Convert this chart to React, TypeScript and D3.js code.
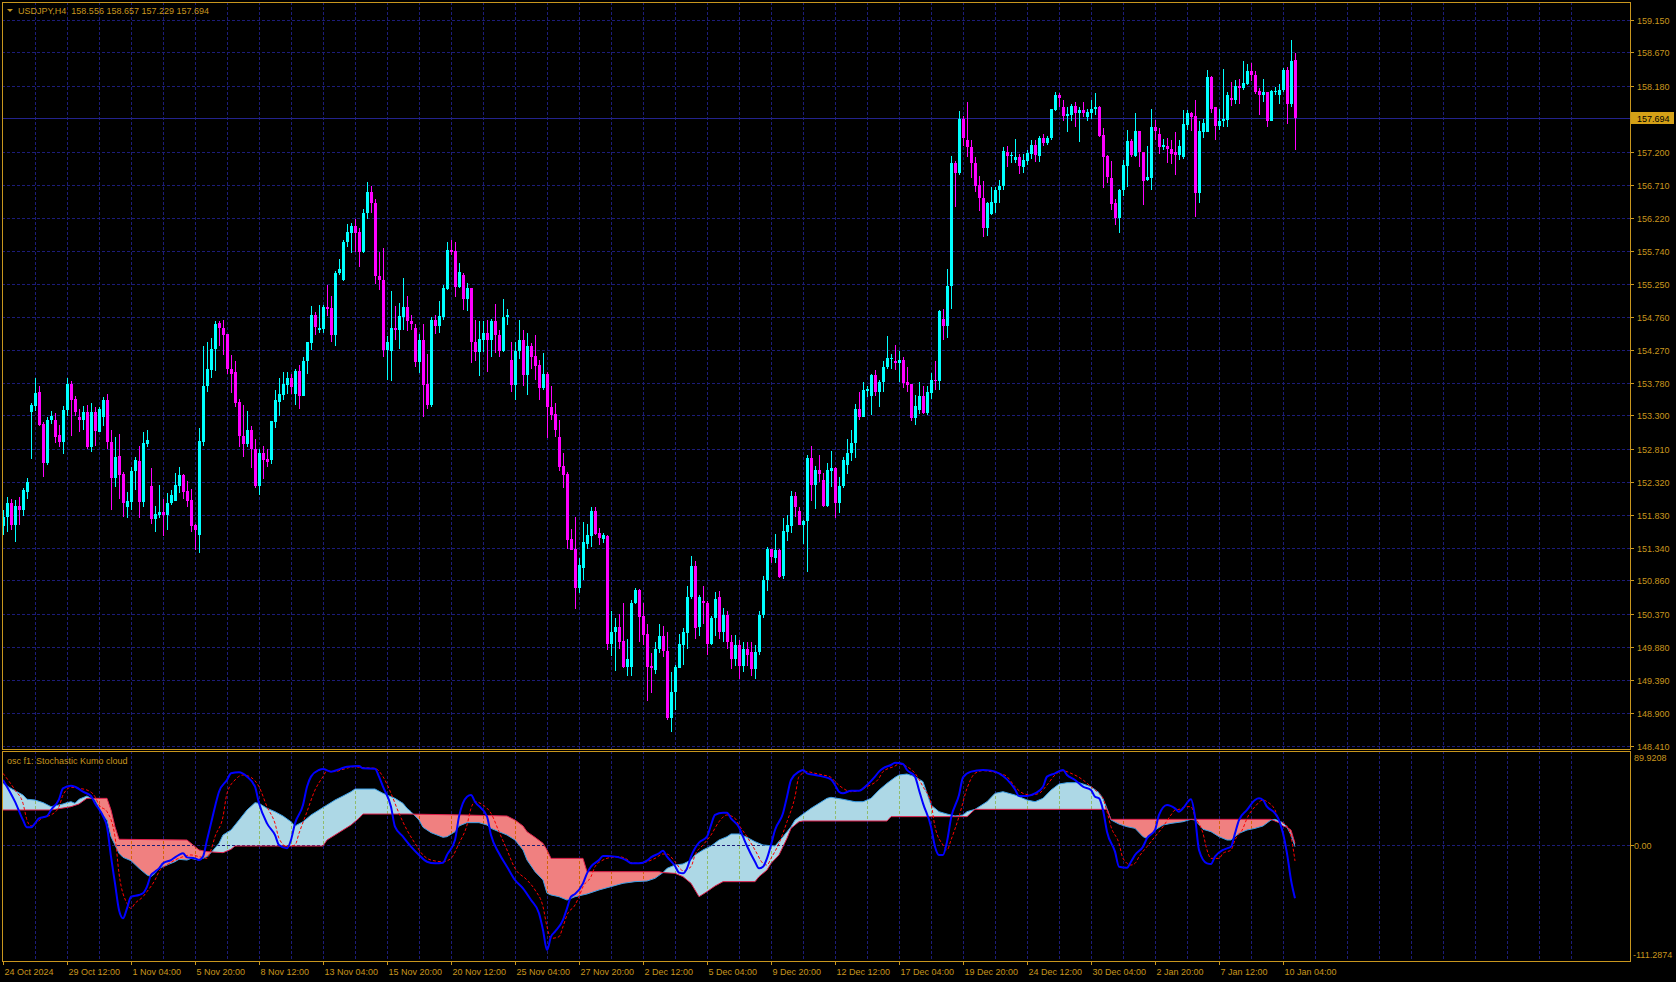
import React, { useEffect, useRef } from "react";
import * as d3 from "d3";

// USDJPY H4 candles, bar 0 = 24 Oct 2024 20:00
const opens = [
  151.66,151.80,152.00,151.68,151.96,151.90,152.17,153.35,153.44,153.65,
  153.17,152.60,153.24,153.23,153.01,152.91,153.38,153.77,153.54,153.28,
  153.23,153.35,152.83,153.35,153.06,153.28,153.53,152.91,152.38,152.70,
  152.43,151.95,152.02,152.48,152.62,152.02,152.88,152.26,151.77,151.83,
  151.87,151.82,152.00,152.03,152.26,152.42,152.18,152.05,151.68,151.53,
  152.91,153.73,153.97,154.28,154.67,154.59,154.50,153.99,153.94,153.50,
  153.00,152.88,153.09,152.80,152.26,152.74,152.65,152.64,153.21,153.50,
  153.60,153.75,153.86,153.62,153.96,153.59,154.11,154.37,154.79,154.57,
  154.58,154.91,154.89,154.49,155.40,155.31,155.86,156.00,156.10,156.02,
  155.72,156.30,156.60,156.45,155.36,155.31,154.27,154.26,154.59,154.57,
  154.76,154.90,154.70,154.60,154.09,154.42,153.76,153.45,154.71,154.62,
  154.76,155.17,155.75,155.73,155.20,155.38,155.03,155.18,154.39,154.24,
  154.42,154.52,154.41,154.70,154.49,154.26,154.76,154.12,153.75,154.25,
  154.42,153.90,154.32,154.18,154.04,153.70,153.92,153.42,153.32,152.98,
  152.55,152.43,151.47,151.33,150.74,151.04,151.40,151.52,151.89,151.56,
  151.47,151.52,149.92,150.09,150.17,149.97,149.58,149.58,150.52,150.72,
  150.33,150.07,149.59,149.53,149.84,150.03,149.82,148.83,149.21,149.57,
  149.90,150.08,150.61,151.07,150.17,150.55,150.53,149.92,150.30,150.61,
  150.10,150.35,149.95,149.70,149.90,149.60,149.85,149.80,149.55,149.80,
  150.35,150.86,151.32,151.19,151.31,150.92,151.58,151.66,152.11,151.89,
  151.68,151.74,152.67,152.27,152.49,152.35,151.96,152.48,152.52,152.01,
  152.25,152.57,152.75,152.89,153.40,153.28,153.66,153.59,153.90,153.65,
  153.79,154.01,154.13,154.11,154.08,154.12,153.79,153.77,153.26,153.38,
  153.59,153.34,153.63,153.83,153.81,154.72,154.62,155.21,157.04,156.89,
  157.68,157.37,157.27,157.03,156.71,156.51,156.07,156.28,156.44,156.64,
  156.69,157.20,157.15,157.08,157.13,156.98,157.07,157.17,157.30,157.14,
  157.41,157.33,157.40,157.82,158.04,157.86,157.73,157.74,157.88,157.78,
  157.82,157.71,157.77,157.83,157.87,157.45,157.14,156.82,156.44,156.22,
  156.63,156.99,157.36,157.14,157.51,157.19,156.79,156.82,157.56,157.46,
  157.27,157.29,157.24,157.19,157.15,157.13,157.60,157.77,157.73,156.59,
  157.50,157.50,158.30,157.86,157.58,157.66,157.67,157.99,157.96,158.17,
  158.15,158.21,158.39,158.34,158.10,158.04,158.09,157.65,158.08,158.04,
  158.11,158.41,157.91,158.556,
];
const highs = [
  151.90,152.09,152.06,152.05,152.09,152.22,152.37,153.48,153.86,153.73,
  153.20,153.27,153.36,153.34,153.16,153.44,153.85,153.81,153.59,153.39,
  153.44,153.45,153.48,153.42,153.43,153.57,153.62,153.08,152.98,153.03,
  152.47,152.17,152.53,152.68,152.85,153.06,153.08,152.52,151.96,152.27,
  152.06,152.16,152.20,152.45,152.54,152.44,152.33,152.21,151.69,153.12,
  154.33,154.38,154.45,154.69,154.70,154.71,154.51,154.19,154.11,153.54,
  153.45,153.37,153.14,152.95,152.81,152.85,152.80,153.22,153.67,153.85,
  153.95,153.94,153.91,153.98,154.04,154.16,154.39,154.92,154.83,154.93,
  154.93,155.23,155.07,155.43,155.61,155.90,156.13,156.14,156.20,156.07,
  156.35,156.75,156.70,156.50,155.72,155.77,154.48,155.14,154.92,154.96,
  155.34,155.07,154.78,154.65,154.51,154.65,154.21,154.75,154.79,155.00,
  155.23,155.86,155.89,155.87,155.55,155.40,155.26,155.18,154.71,154.69,
  154.69,154.71,154.73,154.95,154.56,155.02,154.88,154.38,154.38,154.71,
  154.56,154.52,154.37,154.49,154.12,154.22,153.95,153.73,153.49,153.23,
  152.75,152.47,151.62,151.80,151.19,151.73,151.70,151.95,151.95,151.63,
  151.56,151.53,150.40,150.30,150.36,150.53,150.00,150.57,150.74,150.73,
  150.52,150.22,149.78,149.95,150.22,150.19,150.09,149.51,149.61,150.07,
  150.16,150.78,151.22,151.14,150.64,150.78,150.55,150.33,150.69,150.70,
  150.45,150.40,150.05,150.05,149.98,149.95,149.95,149.95,149.90,150.40,
  150.92,151.35,151.33,151.55,151.32,151.78,151.83,152.18,152.17,151.95,
  151.75,152.71,152.85,152.55,152.71,152.45,152.60,152.77,152.53,152.39,
  152.68,152.95,153.08,153.47,153.65,153.79,153.73,153.92,153.97,153.83,
  154.10,154.48,154.21,154.34,154.26,154.16,154.01,153.77,153.60,153.79,
  153.74,153.73,153.93,154.10,154.86,154.88,155.46,157.14,157.07,157.81,
  157.73,157.93,157.38,157.13,156.84,156.77,156.46,156.68,156.68,156.79,
  157.27,157.28,157.20,157.39,157.17,157.17,157.22,157.38,157.38,157.43,
  157.47,157.43,157.84,158.09,158.07,157.96,157.86,157.91,157.94,157.86,
  157.94,157.84,157.96,158.07,157.88,157.55,157.15,157.07,156.50,156.65,
  157.08,157.53,157.39,157.77,157.51,157.20,157.29,157.84,157.67,157.55,
  157.39,157.41,157.38,157.50,157.37,157.82,157.82,157.79,157.96,157.66,
  157.68,158.41,158.32,157.86,157.84,158.42,158.09,158.24,158.26,158.27,
  158.55,158.50,158.52,158.40,158.14,158.27,158.09,158.12,158.16,158.21,
  158.44,158.45,158.86,158.657,
];
const lows = [
  151.53,151.57,151.60,151.43,151.68,151.81,152.07,152.66,153.37,153.14,
  152.39,152.57,153.18,152.89,152.84,152.73,153.29,152.99,153.29,153.06,
  153.08,152.80,152.76,152.85,153.06,153.14,152.80,151.90,152.24,152.07,
  151.80,151.78,151.90,152.20,151.78,151.95,152.84,151.69,151.58,151.78,
  151.52,151.60,151.98,152.03,152.16,152.06,151.95,151.58,151.31,151.27,
  152.85,153.65,153.85,153.96,154.33,154.19,153.91,153.63,153.42,152.84,
  152.68,152.83,152.52,152.22,152.12,152.36,152.54,152.58,153.12,153.29,
  153.53,153.62,153.62,153.45,153.40,153.59,153.91,154.27,154.49,154.52,
  154.52,154.77,154.39,154.32,155.38,155.29,155.79,155.70,155.72,155.50,
  155.70,156.20,156.30,155.25,155.16,154.17,153.83,153.81,154.41,154.28,
  154.56,154.55,154.56,154.02,153.93,153.27,153.39,153.43,154.50,154.52,
  154.71,155.15,155.67,155.05,155.18,154.86,154.85,154.07,154.10,153.88,
  154.24,153.95,154.17,154.22,154.17,154.24,154.64,153.64,153.53,154.13,
  153.73,153.60,153.98,153.83,153.53,153.68,152.97,153.24,152.98,152.48,
  152.22,151.33,151.31,150.43,150.67,150.86,151.33,151.35,151.53,151.38,
  151.41,149.83,149.74,149.52,149.85,149.57,149.45,149.45,150.51,149.95,
  149.90,149.07,149.19,149.47,149.78,149.73,148.79,148.62,148.94,149.56,
  149.61,149.85,150.59,149.99,150.03,150.21,149.76,149.90,150.03,150.00,
  149.95,149.85,149.55,149.60,149.40,149.50,149.60,149.45,149.40,149.75,
  150.30,150.70,151.12,151.11,150.89,150.88,151.45,151.56,151.80,151.68,
  151.40,150.99,152.04,151.91,152.31,151.94,151.94,152.24,151.79,151.86,
  152.22,152.44,152.63,152.67,153.24,153.27,153.58,153.30,153.59,153.43,
  153.64,153.98,153.99,153.97,153.79,153.70,153.64,153.22,153.16,153.32,
  153.32,153.31,153.54,153.67,153.68,154.42,154.44,154.88,156.39,156.86,
  157.29,157.13,156.82,156.61,156.33,155.94,155.95,156.26,156.30,156.44,
  156.64,156.97,157.04,157.04,156.87,156.89,157.00,157.10,157.05,157.05,
  157.28,157.30,157.37,157.81,157.86,157.65,157.50,157.65,157.57,157.34,
  157.71,157.65,157.68,157.74,157.42,156.66,156.74,156.34,156.12,156.00,
  156.54,156.68,157.12,157.12,156.97,156.41,156.77,156.63,157.37,157.17,
  157.22,157.03,157.02,156.86,157.08,157.10,157.52,157.51,156.23,156.45,
  157.41,157.50,157.77,157.37,157.53,157.56,157.56,157.88,157.91,157.91,
  158.12,158.19,158.25,158.06,157.74,157.94,157.56,157.65,158.04,157.91,
  158.09,157.61,157.86,157.229,
];
const closes = [
  151.80,152.00,151.68,151.96,151.90,152.20,152.31,153.45,153.63,153.16,
  152.60,153.24,153.29,152.98,152.91,153.38,153.77,153.53,153.35,153.23,
  153.35,152.83,153.35,153.07,153.40,153.53,152.90,152.38,152.68,152.42,
  152.01,152.03,152.48,152.64,152.02,152.89,152.94,151.77,151.84,151.87,
  151.82,152.00,152.12,152.27,152.42,152.17,152.04,151.67,151.60,152.92,
  153.73,153.99,154.29,154.65,154.60,154.49,153.99,153.92,153.49,153.00,
  152.88,153.09,152.80,152.26,152.74,152.64,152.61,153.22,153.53,153.62,
  153.77,153.86,153.72,153.96,153.59,154.11,154.38,154.79,154.61,154.60,
  154.91,154.88,154.49,155.41,155.46,155.87,156.02,156.10,156.00,155.72,
  156.30,156.60,156.45,155.36,155.30,154.27,154.39,154.59,154.57,154.77,
  154.90,154.69,154.65,154.09,154.42,153.75,153.45,154.71,154.62,154.77,
  155.18,155.75,155.72,155.20,155.42,155.03,155.18,154.38,154.24,154.43,
  154.52,154.41,154.70,154.49,154.26,154.76,154.79,153.75,154.26,154.42,
  153.90,154.32,154.16,154.03,153.70,153.91,153.42,153.31,153.08,152.54,
  152.42,151.46,151.31,150.74,151.09,151.43,151.53,151.89,151.55,151.48,
  151.53,149.92,150.10,150.17,149.95,149.58,149.69,150.53,150.72,150.32,
  150.05,149.58,149.56,149.85,150.03,149.81,148.83,149.21,149.58,149.92,
  150.10,150.62,151.07,150.15,150.62,150.52,149.92,150.31,150.59,150.10,
  150.35,149.95,149.70,149.90,149.60,149.85,149.75,149.55,149.80,150.35,
  150.86,151.32,151.21,151.31,150.91,151.59,151.68,152.11,151.95,151.68,
  151.74,152.67,152.27,152.49,152.44,151.96,152.49,152.52,152.01,152.26,
  152.64,152.75,152.89,153.40,153.28,153.68,153.69,153.90,153.65,153.80,
  154.02,154.15,154.15,154.08,154.12,153.78,153.75,153.26,153.44,153.59,
  153.34,153.64,153.83,153.81,154.84,154.62,155.22,157.04,156.89,157.68,
  157.41,157.27,157.03,156.69,156.51,156.07,156.44,156.46,156.64,156.69,
  157.21,157.14,157.15,157.13,156.99,157.08,157.18,157.30,157.15,157.41,
  157.33,157.41,157.83,158.04,157.99,157.73,157.76,157.88,157.77,157.82,
  157.77,157.79,157.84,157.87,157.43,157.13,156.83,156.43,156.22,156.64,
  157.00,157.36,157.15,157.51,157.19,156.77,156.83,157.56,157.51,157.27,
  157.30,157.24,157.17,157.15,157.29,157.61,157.77,157.72,156.59,157.51,
  157.62,158.30,157.84,157.58,157.66,157.68,158.04,157.96,158.17,158.14,
  158.22,158.39,158.34,158.09,158.04,158.09,157.65,158.10,158.10,158.12,
  158.41,157.91,158.54,157.694,
];

const priceTicks = [
  159.15, 158.67, 158.18, 157.2, 156.71, 156.22, 155.74, 155.25, 154.76, 154.27, 153.78,
  153.3, 152.81, 152.32, 151.83, 151.34, 150.86, 150.37, 149.88, 149.39, 148.9, 148.41,
];
const lastPrice = 157.694;

const timeLabels = [
  "24 Oct 2024", "29 Oct 12:00", "1 Nov 04:00", "5 Nov 20:00", "8 Nov 12:00", "13 Nov 04:00",
  "15 Nov 20:00", "20 Nov 12:00", "25 Nov 04:00", "27 Nov 20:00", "2 Dec 12:00", "5 Dec 04:00",
  "9 Dec 20:00", "12 Dec 12:00", "17 Dec 04:00", "19 Dec 20:00", "24 Dec 12:00", "30 Dec 04:00",
  "2 Jan 20:00", "7 Jan 12:00", "10 Jan 04:00",
];

// oscillator: [bar, value]
const stochMain: [number, number][] = [
  [0,63.0],[1,56.5],[3,42.1],[5,24.4],[6,17.4],[7,17.4],[8,21.2],[9,26.1],[11,28.3],[12,34.1],[14,44.4],[15,54.9],
  [17,57.5],[18,56.5],[20,51.7],[22,47.6],[23,40.5],[25,28.3],[26,18.0],[27,-10.8],[28,-36.5],[29,-62.2],[30,-70.2],
  [31,-60.6],[32,-49.4],[34,-47.7],[35,-46.1],[36,-39.7],[37,-28.5],[38,-25.3],[39,-22.1],[40,-17.3],[42,-14.1],
  [43,-11.5],[44,-9.2],[45,-7.6],[46,-11.5],[48,-12.5],[49,-14.1],[50,-10.8],[51,5.2],[52,21.2],[53,37.3],[54,51.7],
  [56,63.0],[57,69.4],[59,70.4],[61,66.2],[63,56.5],[64,40.5],[66,21.2],[68,10.0],[69,0.4],[71,-2.8],[72,5.2],
  [73,21.2],[75,38.9],[76,56.5],[77,66.2],[79,72.6],[80,73.6],[82,71.0],[84,73.2],[86,75.8],[89,76.4],[90,74.2],
  [93,73.9],[94,66.2],[95,56.5],[97,37.3],[98,18.0],[100,8.4],[102,-1.2],[104,-9.2],[106,-15.7],[108,-17.3],
  [110,-16.6],[111,-9.2],[113,5.2],[114,27.7],[116,46.9],[117,48.5],[118,42.1],[121,27.7],[122,10.0],[124,-7.6],
  [126,-20.5],[128,-33.3],[130,-41.3],[132,-52.6],[134,-65.4],[135,-81.4],[136,-100.7],[137,-87.9],[138,-83.0],
  [140,-71.8],[141,-60.6],[142,-49.4],[143,-46.8],[145,-36.5],[146,-26.9],[147,-20.5],[149,-14.1],[150,-10.2],
  [151,-10.2],[153,-10.8],[154,-11.5],[156,-14.7],[157,-17.3],[159,-17.3],[161,-14.7],[162,-11.5],[164,-7.6],
  [165,-5.1],[166,-10.8],[168,-19.8],[169,-26.2],[170,-26.9],[171,-22.1],[172,-10.8],[173,-2.8],[174,2.6],[176,8.4],
  [177,19.6],[178,29.3],[180,31.5],[181,31.5],[182,26.1],[184,17.4],[185,8.4],[186,-0.6],[188,-15.7],[189,-22.1],
  [190,-20.5],[191,-12.5],[192,0.4],[193,14.8],[195,30.9],[196,46.9],[197,63.0],[199,71.0],[200,72.6],[201,69.4],
  [203,67.8],[205,66.2],[207,63.6],[208,58.2],[209,51.7],[210,50.1],[212,52.7],[214,52.7],[216,58.2],[218,66.2],
  [219,71.0],[220,74.2],[222,77.4],[223,79.6],[225,78.4],[226,72.6],[228,66.2],[229,53.3],[230,40.5],[232,18.0],
  [233,-1.2],[234,-9.2],[235,-9.2],[236,3.6],[237,26.1],[239,48.5],[240,65.5],[242,71.0],[245,72.6],[247,72.0],
  [249,69.4],[251,63.6],[253,54.0],[254,47.6],[256,47.6],[258,50.1],[260,56.5],[261,66.2],[263,69.4],[265,72.6],
  [266,67.8],[268,63.0],[270,56.5],[272,53.3],[273,46.9],[274,45.3],[275,34.1],[276,13.2],[278,-6.0],[279,-20.5],
  [281,-21.4],[282,-15.7],[283,-9.2],[285,-1.2],[286,6.8],[288,14.8],[289,29.3],[291,38.9],[293,35.7],[294,32.5],
  [295,35.7],[297,44.4],[298,27.7],[299,-4.4],[301,-17.3],[302,-17.9],[303,-10.8],[305,-4.4],[306,-2.8],[307,-1.2],
  [308,11.6],[309,24.4],[311,34.1],[313,43.7],[314,45.3],[315,43.7],[316,37.3],[318,30.9],[319,24.4],[320,11.6],
  [321,-7.6],[322,-33.3],[323,-50.9],
];
const stochSignal: [number, number][] = [
  [0,69.4],[3,53.3],[5,40.5],[6,24.4],[7,18.7],[8,20.6],[10,27.0],[12,29.3],[14,37.3],[15,48.5],[17,55.9],[19,54.9],
  [21,53.3],[23,46.9],[24,38.9],[26,32.5],[28,8.4],[29,-26.9],[31,-55.8],[32,-60.6],[33,-55.8],[35,-49.4],[36,-44.5],
  [38,-33.3],[39,-25.3],[41,-18.9],[43,-14.1],[45,-10.9],[47,-9.2],[49,-10.8],[51,-12.5],[52,-4.4],[53,8.4],[55,27.7],
  [56,50.1],[58,63.0],[60,67.8],[62,65.5],[64,56.5],[66,37.3],[68,21.2],[69,6.8],[71,-1.2],[73,0.4],[74,11.6],
  [76,32.5],[78,53.3],[80,66.2],[81,71.9],[83,71.0],[85,73.2],[88,75.8],[89,75.2],[93,74.2],[95,66.2],[97,50.1],
  [99,30.9],[101,14.8],[103,2.0],[105,-9.2],[107,-14.1],[110,-15.7],[112,-12.5],[114,2.0],[116,19.6],[117,35.7],
  [118,42.1],[120,38.9],[122,30.9],[124,13.2],[126,-4.4],[128,-22.1],[131,-33.3],[133,-42.9],[135,-59.0],[136,-78.2],
  [137,-89.5],[139,-87.9],[140,-78.2],[141,-67.0],[143,-57.4],[144,-49.4],[145,-39.7],[147,-30.1],[148,-20.5],
  [150,-14.1],[152,-11.5],[154,-10.9],[156,-13.4],[157,-16.6],[159,-17.3],[161,-15.7],[163,-12.5],[165,-8.3],
  [166,-8.3],[168,-15.7],[170,-24.3],[172,-20.5],[173,-9.2],[175,0.4],[177,10.0],[179,22.8],[181,29.3],[183,26.1],
  [184,19.6],[186,8.4],[188,-4.4],[190,-17.3],[191,-18.9],[192,-12.5],[194,2.0],[196,22.8],[198,46.9],[199,66.2],
  [201,71.0],[203,69.4],[205,67.8],[207,65.5],[208,61.4],[210,55.0],[212,51.7],[214,52.7],[216,56.5],[219,64.6],
  [220,71.0],[223,76.4],[224,78.4],[226,75.8],[228,69.4],[230,56.5],[232,40.5],[233,18.0],[235,0.4],[236,-4.4],
  [237,5.2],[239,27.7],[241,54.9],[243,69.4],[245,72.0],[247,71.0],[249,69.4],[251,66.2],[253,56.5],[255,50.1],
  [257,48.5],[259,50.1],[261,58.1],[263,67.8],[265,71.9],[267,69.4],[270,63.0],[272,56.5],[274,50.1],[275,45.3],
  [276,32.5],[277,18.0],[279,2.0],[280,-12.5],[282,-18.9],[283,-17.3],[284,-10.9],[286,-1.2],[288,8.4],[290,18.0],
  [292,29.3],[293,34.1],[294,34.7],[296,37.3],[297,37.3],[298,27.7],[300,11.6],[301,-4.4],[302,-12.5],[304,-12.5],
  [305,-7.6],[307,-4.4],[308,5.2],[310,16.4],[311,26.1],[313,37.3],[315,43.7],[316,42.1],[318,34.1],[319,24.4],
  [321,18.7],[322,8.4],[323,-15.0],
];
const kumoA: [number, number][] = [
  [0,59.7],[2,54.9],[5,48.5],[6,44.4],[8,43.7],[10,41.2],[12,37.3],[14,38.9],[15,39.9],[16,41.2],[17,42.1],[18,40.5],
  [19,44.4],[21,47.6],[22,45.3],[23,43.7],[25,29.3],[26,24.4],[27,8.4],[29,-7.6],[30,-11.5],[32,-14.7],[34,-22.1],
  [36,-28.5],[37,-30.1],[38,-26.9],[39,-22.1],[41,-18.9],[43,-15.7],[44,-13.4],[46,-14.1],[47,-12.5],[49,-14.1],
  [51,-10.8],[52,-7.0],[54,2.0],[55,10.0],[57,14.8],[59,24.4],[61,34.1],[63,41.1],[64,40.5],[66,35.7],[68,32.5],
  [70,28.3],[72,22.8],[73,18.7],[75,22.8],[77,29.3],[79,34.1],[81,38.9],[83,43.7],[85,47.6],[87,51.7],[88,54.3],
  [93,54.3],[95,50.1],[97,46.9],[98,45.3],[100,40.5],[101,35.7],[102,32.5],[104,24.4],[105,17.4],[107,12.3],
  [110,7.8],[111,8.4],[113,13.2],[114,18.7],[116,21.9],[119,21.9],[121,19.6],[122,16.4],[124,13.2],[126,10.0],
  [128,5.2],[130,-4.4],[131,-14.1],[133,-25.3],[135,-33.3],[136,-46.1],[137,-47.7],[139,-49.4],[141,-52.6],
  [143,-49.4],[146,-46.8],[149,-42.9],[152,-39.7],[155,-36.5],[158,-34.9],[161,-34.3],[163,-31.7],[165,-26.2],
  [166,-22.1],[168,-18.9],[170,-17.9],[172,-14.1],[173,-9.2],[175,-4.4],[177,-0.6],[179,5.2],[181,8.4],[182,11.0],
  [184,11.0],[186,7.8],[188,3.6],[190,0.4],[193,-0.6],[195,8.4],[197,18.0],[198,24.4],[200,30.2],[202,35.7],
  [204,40.5],[206,45.3],[207,46.3],[210,44.4],[213,42.1],[215,42.1],[217,45.3],[219,53.3],[221,59.8],[223,65.5],
  [224,67.8],[226,68.7],[228,66.2],[230,61.4],[231,50.1],[232,38.9],[234,32.5],[236,30.2],[238,28.3],[240,29.3],
  [241,32.5],[243,34.7],[246,42.1],[248,50.1],[250,51.7],[253,48.5],[256,43.7],[258,42.1],[260,45.3],[262,53.3],
  [264,59.1],[266,60.4],[269,60.4],[272,56.5],[274,50.8],[275,45.0],[276,35.5],[277,24.5],[279,20.5],[281,18.0],
  [283,16.4],[285,8.4],[286,6.8],[288,14.8],[290,19.6],[292,21.2],[295,22.8],[297,25.1],[298,24.4],[300,15.5],
  [302,13.2],[304,8.4],[306,5.2],[307,5.2],[309,11.6],[311,14.8],[313,16.4],[315,18.7],[317,24.4],[318,25.1],
  [320,21.9],[321,17.4],[322,10.0],[323,-1.2],
];
const kumoB: [number, number][] = [
  [0,34.1],[12,34.1],[13,34.7],[17,37.3],[19,39.9],[21,45.3],[26,45.3],[27,34.1],[28,18.0],[29,5.9],[46,5.2],
  [47,2.0],[49,-4.4],[51,-6.0],[55,-7.0],[57,-3.8],[58,-0.6],[80,-0.6],[81,5.2],[83,10.0],[85,14.8],[87,19.6],
  [89,26.1],[90,30.2],[101,30.2],[115,29.3],[126,28.3],[128,24.4],[130,18.7],[131,13.2],[133,7.8],[135,2.0],
  [136,-4.4],[137,-12.5],[145,-12.5],[146,-25.3],[164,-25.3],[165,-26.2],[168,-26.9],[170,-30.1],[172,-36.5],
  [174,-49.4],[176,-44.5],[178,-39.1],[180,-34.9],[188,-34.9],[189,-30.1],[191,-23.7],[192,-17.3],[194,-9.2],
  [196,6.8],[197,16.4],[199,22.8],[200,23.5],[221,23.5],[222,27.7],[241,27.7],[243,34.7],[276,34.7],[277,25.1],
  [317,25.1],[319,21.9],[320,18.7],[321,17.4],[322,14.8],[323,2.0],
];

const oscMax = 89.9208;
const oscMin = -111.2874;

const App: React.FC = () => {
  const ref = useRef<SVGSVGElement>(null);

  useEffect(() => {
    if (!ref.current) return;
    const svg = d3.select(ref.current);
    svg.selectAll("*").remove();

    const width = 1676;
    const height = 982;
    const left = 2, right = 1630;
    const mainTop = 2, mainBottom = 749;
    const oscTop = 751, oscBottom = 961;
    const gold = "#c8961e";
    const grid = "#1c1c78";
    const font = "'Liberation Sans', Arial, sans-serif";

    svg.attr("width", width).attr("height", height);
    svg.append("rect").attr("width", width).attr("height", height).attr("fill", "#000");

    const x = d3.scaleLinear().domain([0, 1]).range([3, 7]);
    const yP = d3.scaleLinear().domain([148.41, 159.15]).range([746, 20]);
    const yO = d3.scaleLinear().domain([oscMin, oscMax]).range([oscBottom, oscTop + 1]);

    const defs = svg.append("defs");
    defs.append("clipPath").attr("id", "mainClip").append("rect")
      .attr("x", left + 1).attr("y", mainTop + 1).attr("width", right - left - 1).attr("height", mainBottom - mainTop - 1);
    defs.append("clipPath").attr("id", "oscClip").append("rect")
      .attr("x", left + 1).attr("y", oscTop + 1).attr("width", right - left - 1).attr("height", oscBottom - oscTop - 1);

    // grid main
    const gMain = svg.append("g").attr("clip-path", "url(#mainClip)").attr("shape-rendering", "crispEdges");
    priceTicks.forEach((p) => {
      const yy = Math.round(yP(p)) + 0.5;
      gMain.append("line").attr("x1", left).attr("x2", right).attr("y1", yy).attr("y2", yy)
        .attr("stroke", grid).attr("stroke-dasharray", "3,2");
    });
    const vBars = d3.range(8, 400, 8);
    vBars.forEach((b) => {
      const xx = x(b) + 0.5;
      gMain.append("line").attr("x1", xx).attr("x2", xx).attr("y1", mainTop).attr("y2", mainBottom)
        .attr("stroke", grid).attr("stroke-dasharray", "3,2");
    });
    const yLast = Math.round(yP(lastPrice)) + 0.5;
    gMain.append("line").attr("x1", left).attr("x2", right).attr("y1", yLast).attr("y2", yLast)
      .attr("stroke", "#23238c");

    // candles
    const bars = d3.range(closes.length);
    bars.forEach((i) => {
      const o = opens[i], c = closes[i], h = highs[i], l = lows[i];
      const col = c >= o ? "#00ffff" : "#ff00ff";
      const cx = Math.round(x(i));
      const yh = Math.round(yP(h)), yl = Math.round(yP(l));
      gMain.append("rect").attr("x", cx).attr("y", yh).attr("width", 1).attr("height", Math.max(1, yl - yh)).attr("fill", col);
      const yt = Math.round(yP(Math.max(o, c))), yb = Math.round(yP(Math.min(o, c)));
      gMain.append("rect").attr("x", cx - 1).attr("y", yt).attr("width", 3).attr("height", Math.max(1, yb - yt)).attr("fill", col);
    });

    // oscillator
    const gOsc = svg.append("g").attr("clip-path", "url(#oscClip)");
    const xs = (d: [number, number]) => x(d[0]);
    const areaToTop = d3.area<[number, number]>().x(xs).y0(oscTop).y1((d) => yO(d[1]));
    const areaToBottom = d3.area<[number, number]>().x(xs).y0(oscBottom).y1((d) => yO(d[1]));
    defs.append("clipPath").attr("id", "aboveB").append("path").attr("d", areaToTop(kumoB) as string);
    defs.append("clipPath").attr("id", "aboveA").append("path").attr("d", areaToTop(kumoA) as string);
    gOsc.append("path").attr("d", areaToBottom(kumoA) as string).attr("fill", "#add8e6").attr("clip-path", "url(#aboveB)");
    gOsc.append("path").attr("d", areaToBottom(kumoB) as string).attr("fill", "#f08080").attr("clip-path", "url(#aboveA)");

    const oscGrid = gOsc.append("g").attr("shape-rendering", "crispEdges");
    vBars.forEach((b) => {
      const xx = x(b) + 0.5;
      oscGrid.append("line").attr("x1", xx).attr("x2", xx).attr("y1", oscTop).attr("y2", oscBottom)
        .attr("stroke", grid).attr("stroke-dasharray", "3,2").style("mix-blend-mode", "difference");
    });
    const y0 = Math.round(yO(0)) + 0.5;
    oscGrid.append("line").attr("x1", left).attr("x2", right).attr("y1", y0).attr("y2", y0)
      .attr("stroke", grid).attr("stroke-dasharray", "3,2");

    const line = d3.line<[number, number]>().x(xs).y((d) => yO(d[1]));
    const smooth = d3.line<[number, number]>().x(xs).y((d) => yO(d[1])).curve(d3.curveMonotoneX);
    gOsc.append("path").attr("d", line(kumoA) as string).attr("fill", "none").attr("stroke", "#3a9ee6").attr("stroke-width", 1);
    gOsc.append("path").attr("d", line(kumoB) as string).attr("fill", "none").attr("stroke", "#e0204c").attr("stroke-width", 1);
    gOsc.append("path").attr("d", smooth(stochSignal) as string).attr("fill", "none").attr("stroke", "#ff0000")
      .attr("stroke-width", 1).attr("stroke-dasharray", "3,2");
    gOsc.append("path").attr("d", smooth(stochMain) as string).attr("fill", "none").attr("stroke", "#0000ff")
      .attr("stroke-width", 2);

    // borders
    const frame = svg.append("g").attr("shape-rendering", "crispEdges").attr("fill", "none").attr("stroke", gold);
    frame.append("rect").attr("x", left + 0.5).attr("y", mainTop + 0.5).attr("width", right - left).attr("height", mainBottom - mainTop);
    frame.append("rect").attr("x", left + 0.5).attr("y", oscTop + 0.5).attr("width", right - left).attr("height", oscBottom - oscTop);

    // price axis
    const axis = svg.append("g").attr("font-family", font).attr("font-size", 9).attr("fill", gold);
    priceTicks.forEach((p) => {
      const yy = Math.round(yP(p)) + 0.5;
      axis.append("line").attr("x1", right).attr("x2", right + 4).attr("y1", yy).attr("y2", yy)
        .attr("stroke", gold).attr("shape-rendering", "crispEdges");
      axis.append("text").attr("x", right + 7).attr("y", yy + 3.5).text(p.toFixed(3));
    });
    axis.append("rect").attr("x", right + 1).attr("y", yLast - 6.5).attr("width", 43).attr("height", 12).attr("fill", "#d4a017");
    axis.append("text").attr("x", right + 7).attr("y", yLast + 3.5).attr("fill", "#000").text(lastPrice.toFixed(3));

    axis.append("text").attr("x", right + 4).attr("y", oscTop + 10).text(oscMax.toFixed(4));
    axis.append("line").attr("x1", right).attr("x2", right + 4).attr("y1", y0).attr("y2", y0)
      .attr("stroke", gold).attr("shape-rendering", "crispEdges");
    axis.append("text").attr("x", right + 4).attr("y", y0 + 3.5).text("0.00");
    axis.append("text").attr("x", right + 3).attr("y", oscBottom - 3.5).text(oscMin.toFixed(4));

    // time axis
    timeLabels.forEach((t, k) => {
      const xx = Math.round(x(k * 16)) + 0.5;
      axis.append("line").attr("x1", xx).attr("x2", xx).attr("y1", oscBottom).attr("y2", oscBottom + 4)
        .attr("stroke", gold).attr("shape-rendering", "crispEdges");
      axis.append("text").attr("x", xx + 1).attr("y", oscBottom + 13.5).text(t);
    });

    // titles
    axis.append("path").attr("d", "M7,9 L13,9 L10,12 Z");
    axis.append("text").attr("x", 18).attr("y", 14).style("white-space", "pre")
      .text("USDJPY,H4  158.556 158.657 157.229 157.694");
    axis.append("text").attr("x", 7).attr("y", oscTop + 13).text("osc f1: Stochastic Kumo cloud");
  }, []);

  return (
    <svg ref={ref} style={{ position: "absolute", left: 0, top: 0, display: "block" }}></svg>
  );
};

export default App;
